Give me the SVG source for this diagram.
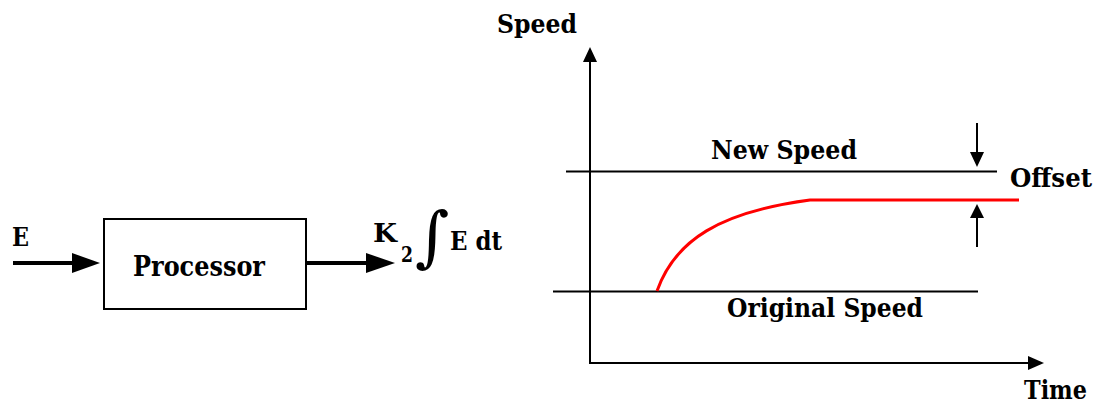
<svg xmlns="http://www.w3.org/2000/svg" width="1099" height="405" viewBox="0 0 1099 405">
<style>
.t{font-family:"DejaVu Serif","Liberation Serif","Times New Roman",serif;font-weight:bold;font-size:26px;fill:#000}
.ln{stroke:#000;stroke-width:2;fill:none}
.thick{stroke:#000;stroke-width:4;fill:none}
.head{fill:#000;stroke:none}
</style>
<rect width="1099" height="405" fill="#fff"/>
<g id="processor">
<rect x="104" y="219" width="202" height="90" fill="#fff" stroke="#000" stroke-width="2"/>
<text class="t" x="133" y="276" style="font-size:28px" textLength="132" lengthAdjust="spacingAndGlyphs">Processor</text>
</g>
<g id="input-label"><text class="t" x="12" y="246" textLength="17" lengthAdjust="spacingAndGlyphs">E</text></g>
<g id="output-label">
<text class="t" x="373" y="242" textLength="24" lengthAdjust="spacingAndGlyphs">K</text>
<text class="t" x="401" y="262" style="font-size:22px" textLength="12" lengthAdjust="spacingAndGlyphs">2</text>
<text class="t" x="415" y="259" style="font-size:66px;font-weight:normal">∫</text>
<text class="t" x="450" y="250" textLength="52" lengthAdjust="spacingAndGlyphs">E dt</text>
</g>
<g id="graph-labels">
<text class="t" x="497" y="33" textLength="80" lengthAdjust="spacingAndGlyphs">Speed</text>
<text class="t" x="711" y="159" textLength="146" lengthAdjust="spacingAndGlyphs">New Speed</text>
<text class="t" x="1010" y="187" textLength="82" lengthAdjust="spacingAndGlyphs">Offset</text>
<text class="t" x="727" y="317" textLength="196" lengthAdjust="spacingAndGlyphs">Original Speed</text>
<text class="t" x="1024" y="399" textLength="63" lengthAdjust="spacingAndGlyphs">Time</text>
</g>
<g id="connectors">
<line class="thick" x1="13" y1="263" x2="76" y2="263"/>
<polygon class="head" points="72,253 100,263 72,273"/>
<line class="thick" x1="306" y1="263" x2="370" y2="263"/>
<polygon class="head" points="366,253 395,263 366,273"/>
<line class="ln" x1="590" y1="58" x2="590" y2="364"/>
<polygon class="head" points="583,62 590,47 597,62"/>
<line class="ln" x1="589" y1="363" x2="1032" y2="363"/>
<polygon class="head" points="1028,356 1044,363 1028,370"/>
<line class="ln" x1="566" y1="171.5" x2="997" y2="171.5"/>
<line class="ln" x1="553" y1="291.5" x2="978" y2="291.5"/>
<path d="M657,291 C675,240 720,212 810,200 L1019,200" fill="none" stroke="#ff0000" stroke-width="3"/>
<line class="ln" x1="977" y1="123" x2="977" y2="156"/>
<polygon class="head" points="970,152 984,152 977,167"/>
<line class="ln" x1="977" y1="247" x2="977" y2="214"/>
<polygon class="head" points="970,218 984,218 977,204"/>
</g>
</svg>
